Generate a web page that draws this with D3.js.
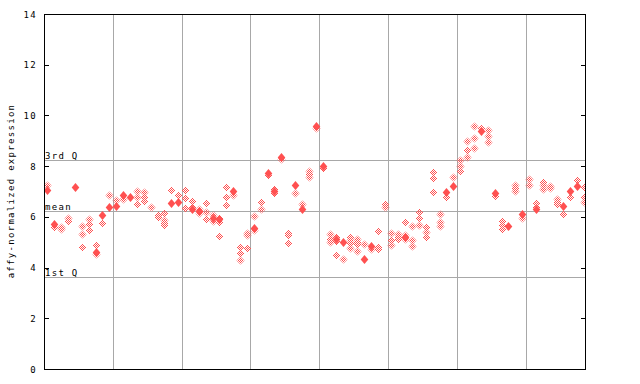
<!DOCTYPE html>
<html><head><meta charset="utf-8">
<script src="https://cdn.jsdelivr.net/npm/d3@7"></script>
<style>body{margin:0;background:#fff}svg{display:block}text{font-family:"DejaVu Sans Mono",monospace;font-size:9px;letter-spacing:1.3px;fill:#000}</style>
</head><body><svg id="c" width="640" height="384"></svg>
<script>
// sample columns (index 0..78); hollow = replicate values, filled = highlighted values
const hollow = [
 [7.24],[5.61],[5.59,5.51],[5.94,5.85],[],[5.64,5.31,4.82],[5.9,5.72,5.48],[4.88,4.53],[5.75],[6.85],
 [6.66],[6.69],[],[7.03,6.79,6.5],[6.98,6.79,6.61],[6.38],[6.07,5.98],[6.16,5.88,5.77,5.68],[7.06],[6.86],
 [7.06,6.73,6.34],[6.62,6.4],[6.31,6.14],[6.53,6.18,5.9],[6.07,5.85],[5.96,5.81,5.23],[7.16,6.77,6.45],[6.85],[4.81,4.56,4.29],[5.35,5.28,4.76],
 [6.02,5.48],[6.57,6.3],[7.64],[7.1,6.95],[8.27],[5.35,5.28,4.96],[6.93],[6.49],[7.79,7.69,7.58],[9.49],
 [7.94],[5.31,5.11,5.02],[5.19,5.06,4.48],[4.33],[5.19,5.09,4.98,4.76],[5.14,5.02,4.93,4.65],[4.93],[4.72],[5.43,4.82,4.72],[6.51,6.4],
 [5.35,5.09,4.89],[5.31,5.22,5.14],[5.78,5.3,5.14],[5.64,5.09,4.84],[6.18,5.94,5.67],[5.59,5.39,5.22],[7.75,7.52,7.0],[6.1,5.78,5.63],[6.77],[7.56],
 [8.24,8.02,7.81],[8.98,8.64,8.35],[9.58,9.1,8.7],[9.5],[9.42,9.19,8.94],[6.82],[5.82,5.67,5.53],[],[7.26,7.12,7.03],[5.94],
 [7.49,7.24],[6.53,6.4],[7.37,7.24,7.11],[7.23,7.15],[6.69,6.6,6.49],[6.1],[6.77],[7.44],[7.16,6.77,6.59]
];
const filled = [
 [7.05],[5.72],[],[],[7.16],[],[],[4.63],[6.09],[6.4],
 [6.43],[6.87],[6.79],[],[],[],[],[],[6.53],[6.6],
 [],[6.3],[6.22],[],[5.94],[5.9],[],[7.03],[],[],
 [5.55],[],[7.71],[7.03],[8.35],[],[7.27],[6.3],[],[9.59],
 [8.0],[],[5.13],[5.02],[],[],[4.35],[4.84],[],[],
 [],[],[5.22],[],[],[],[],[],[6.99],[7.22],
 [],[],[],[9.4],[],[6.94],[],[5.64],[],[6.12],
 [],[6.31],[],[],[],[6.44],[7.03],[7.22],[]
];
const yTicks = [0,2,4,6,8,10,12,14];
const groupBreaks = [10,20,30,40,50,60,70];
const refLines = [{label:"3rd Q", v:8.24},{label:"mean", v:6.22},{label:"1st Q", v:3.62}];
const yTitle = "affy-normalized expression";

const svg = d3.select("#c");
const L=44, R=585, T=14, B=369;
const x = d3.scaleLinear().domain([0,78.63]).range([L,R]);
const y = d3.scaleLinear().domain([0,14]).range([B,T]);
const red = "#ff5050", grey = "#a8a8a8";

const defs = svg.append("defs");
defs.append("clipPath").attr("id","clip").append("rect").attr("x",L).attr("y",T).attr("width",R-L).attr("height",B-T);
const pat = defs.append("pattern").attr("id","chk").attr("patternUnits","userSpaceOnUse")
  .attr("x",0).attr("y",0).attr("width",2).attr("height",2);
pat.append("rect").attr("x",0).attr("y",0).attr("width",1).attr("height",1).attr("fill",red);
pat.append("rect").attr("x",1).attr("y",1).attr("width",1).attr("height",1).attr("fill",red);

// grid lines
svg.append("g").selectAll("line").data(groupBreaks).join("line")
  .attr("x1",d=>Math.round(x(d))+0.5).attr("x2",d=>Math.round(x(d))+0.5)
  .attr("y1",T).attr("y2",B).attr("stroke",grey).attr("stroke-width",1);
svg.append("g").selectAll("line").data(refLines).join("line")
  .attr("x1",L).attr("x2",R).attr("y1",d=>Math.round(y(d.v))+0.5).attr("y2",d=>Math.round(y(d.v))+0.5)
  .attr("stroke",grey).attr("stroke-width",1);

// points
const pts = svg.append("g").attr("clip-path","url(#clip)");
const hollowData = hollow.flatMap((vals,i)=>vals.map(v=>({i,v})));
const filledData = filled.flatMap((vals,i)=>vals.map(v=>({i,v})));
pts.selectAll("path.h").data(hollowData).join("path").attr("class","h")
  .attr("d",d=>{const cx=Math.round(x(d.i+0.5))+0.5, cy=Math.round(y(d.v))+0.5;
    return `M${cx},${cy-4}L${cx+4},${cy}L${cx},${cy+4}L${cx-4},${cy}Z`;})
  .attr("fill","url(#chk)");
pts.selectAll("path.f").data(filledData).join("path").attr("class","f")
  .attr("transform",d=>`translate(${Math.round(x(d.i+0.5))+0.5},${Math.round(y(d.v))+0.5})`)
  .attr("d","M0,-4.5L3.8,0L0,4.5L-3.8,0Z").attr("fill",red);

// frame
const frame = svg.append("g").attr("stroke","#000").attr("stroke-width",1);
frame.append("line").attr("x1",L).attr("x2",R+1).attr("y1",T+0.5).attr("y2",T+0.5);
frame.append("line").attr("x1",L).attr("x2",R+1).attr("y1",B+0.5).attr("y2",B+0.5);
frame.append("line").attr("x1",L+0.5).attr("x2",L+0.5).attr("y1",T).attr("y2",B+1);
frame.append("line").attr("x1",R+0.5).attr("x2",R+0.5).attr("y1",T).attr("y2",B+1);

// y ticks (inward on both sides) and labels
frame.selectAll("line.tl").data(yTicks).join("line").attr("class","tl")
  .attr("x1",L).attr("x2",L+5).attr("y1",d=>Math.round(y(d))+0.5).attr("y2",d=>Math.round(y(d))+0.5);
frame.selectAll("line.tr").data(yTicks).join("line").attr("class","tr")
  .attr("x1",R-4).attr("x2",R+1).attr("y1",d=>Math.round(y(d))+0.5).attr("y2",d=>Math.round(y(d))+0.5);
svg.append("g").selectAll("text").data(yTicks).join("text")
  .attr("x",37).attr("y",d=>y(d)+3.5).attr("text-anchor","end").text(d=>d);

// reference labels
svg.append("g").selectAll("text").data(refLines).join("text")
  .attr("x",45).attr("y",d=>Math.round(y(d.v))-1).text(d=>d.label);

// y title
svg.append("text").attr("transform","translate(14,191) rotate(-90)")
  .attr("text-anchor","middle").text(yTitle);
</script></body></html>
